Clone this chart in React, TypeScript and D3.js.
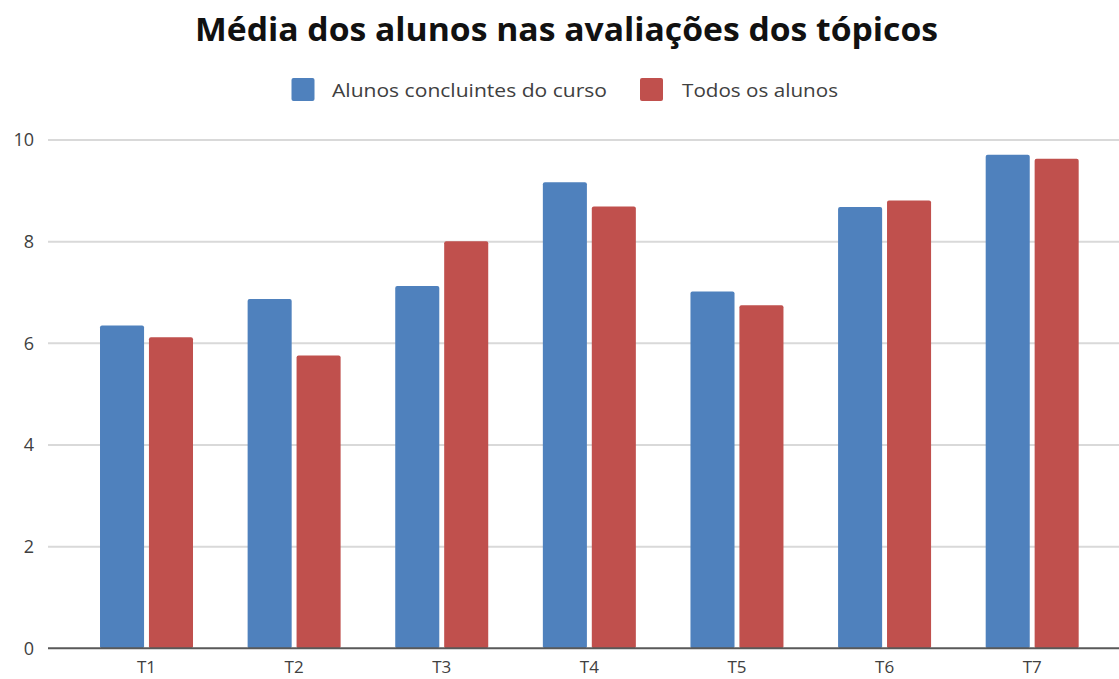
import React from "react";
import * as d3 from "d3";

const categories = ["T1", "T2", "T3", "T4", "T5", "T6", "T7"];
const seriesNames = ["Alunos concluintes do curso", "Todos os alunos"];
const concluintes = [6.35, 6.87, 7.13, 9.17, 7.02, 8.68, 9.71];
const todos = [6.12, 5.76, 8.01, 8.69, 6.75, 8.81, 9.63];
const yTicks = [0, 2, 4, 6, 8, 10];
const colors = ["#4f81bd", "#c0504d"];
const title = "Média dos alunos nas avaliações dos tópicos";

const W = 1119;
const H = 679;

export default function App() {
  const y = d3.scaleLinear().domain([0, 10]).range([648.3, 140]);
  const x = d3
    .scaleBand<string>()
    .domain(categories)
    .range([72.7, 1106])
    .paddingInner(0.37)
    .paddingOuter(0.185);
  const xs = d3
    .scaleBand<number>()
    .domain([0, 1])
    .range([0, x.bandwidth()])
    .paddingInner(0.1);
  const series = [concluintes, todos];
  const font = "'Open Sans', 'DejaVu Sans', sans-serif";
  const gridX0 = 48;
  const gridX1 = W;

  return (
    <svg
      width={W}
      height={H}
      style={{ position: "absolute", left: 0, top: 0, background: "#fff" }}
      fontFamily={font}
    >
      <rect x={0} y={0} width={W} height={H} fill="#fff" />
      <text
        x={195}
        y={41}
        fontSize={32}
        fontWeight="bold"
        fill="#111"
        textLength={743}
        lengthAdjust="spacingAndGlyphs"
      >
        {title}
      </text>
      {/* legend */}
      <g>
        <rect x={291.5} y={78} width={23} height={23} rx={2} fill={colors[0]} />
        <text
          x={332}
          y={96.5}
          fontSize={19}
          fill="#404040"
          textLength={275}
          lengthAdjust="spacingAndGlyphs"
        >
          {seriesNames[0]}
        </text>
        <rect x={640} y={78} width={23} height={23} rx={2} fill={colors[1]} />
        <text
          x={682}
          y={96.5}
          fontSize={19}
          fill="#404040"
          textLength={156}
          lengthAdjust="spacingAndGlyphs"
        >
          {seriesNames[1]}
        </text>
      </g>
      {/* grid */}
      {yTicks.map((t) => (
        <g key={t}>
          {t !== 0 && (
            <line
              x1={gridX0}
              x2={gridX1}
              y1={y(t)}
              y2={y(t)}
              stroke="#d9d9d9"
              strokeWidth={2}
            />
          )}
          <text
            x={34}
            y={y(t)}
            dy="0.35em"
            textAnchor="end"
            fontSize={18}
            fill="#404040"
          >
            {t}
          </text>
        </g>
      ))}
      {/* bars */}
      {categories.map((c, i) => (
        <g key={c} transform={`translate(${x(c)},0)`}>
          {series.map((s, j) => (
            <rect
              key={j}
              x={xs(j)}
              y={y(s[i])}
              width={xs.bandwidth()}
              height={y(0) - y(s[i])}
              rx={2}
              fill={colors[j]}
            />
          ))}
          <text
            x={x.bandwidth() / 2}
            y={673}
            textAnchor="middle"
            fontSize={17}
            fill="#404040"
          >
            {c}
          </text>
        </g>
      ))}
      <line
        x1={gridX0}
        x2={gridX1}
        y1={y(0)}
        y2={y(0)}
        stroke="#595959"
        strokeWidth={2}
      />
    </svg>
  );
}
